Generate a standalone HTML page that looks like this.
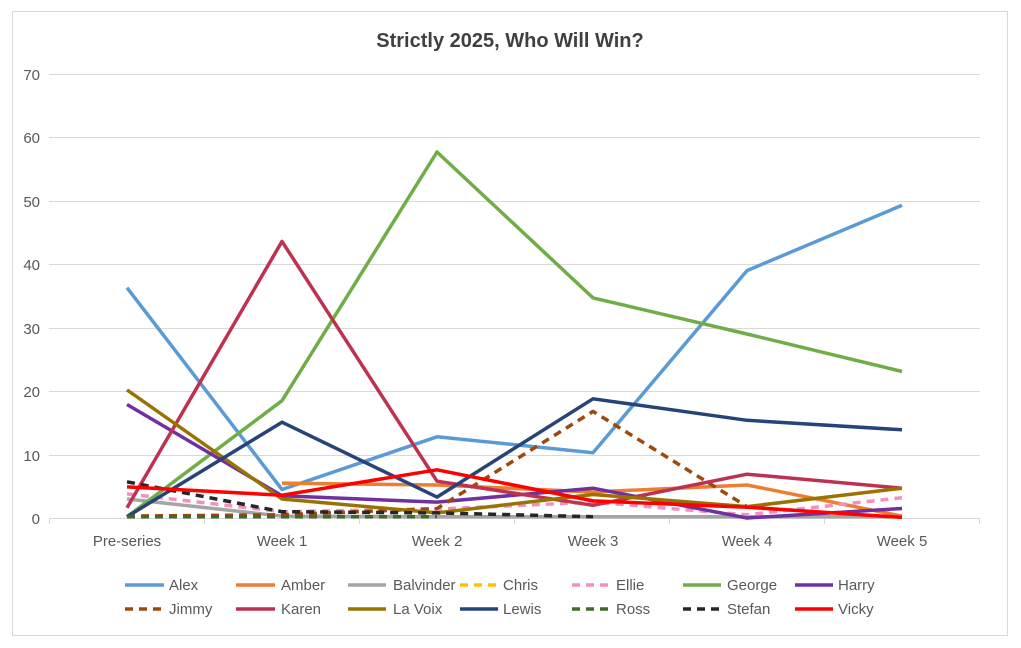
<!DOCTYPE html>
<html><head><meta charset="utf-8"><style>
html,body{margin:0;padding:0;background:#fff;}
svg{display:block;font-family:"Liberation Sans",sans-serif;}
</style></head><body>
<svg width="1021" height="648" viewBox="0 0 1021 648">
<rect x="0" y="0" width="1021" height="648" fill="#fff"/>
<rect x="12.5" y="11.5" width="995" height="624" fill="#fff" stroke="#d9d9d9"/>
<text x="510" y="47" text-anchor="middle" font-size="20" font-weight="bold" fill="#404040">Strictly 2025, Who Will Win?</text>
<g stroke="#d9d9d9" stroke-width="1">
<line x1="49" y1="74.5" x2="980" y2="74.5"/>
<line x1="49" y1="137.5" x2="980" y2="137.5"/>
<line x1="49" y1="201.5" x2="980" y2="201.5"/>
<line x1="49" y1="264.5" x2="980" y2="264.5"/>
<line x1="49" y1="328.5" x2="980" y2="328.5"/>
<line x1="49" y1="391.5" x2="980" y2="391.5"/>
<line x1="49" y1="455.5" x2="980" y2="455.5"/>
<line x1="49" y1="518.5" x2="980" y2="518.5"/>
<line x1="49.5" y1="518" x2="49.5" y2="524"/>
<line x1="204.5" y1="518" x2="204.5" y2="524"/>
<line x1="359.5" y1="518" x2="359.5" y2="524"/>
<line x1="514.5" y1="518" x2="514.5" y2="524"/>
<line x1="669.5" y1="518" x2="669.5" y2="524"/>
<line x1="824.5" y1="518" x2="824.5" y2="524"/>
<line x1="979.5" y1="518" x2="979.5" y2="524"/>
</g>
<g font-size="15" fill="#595959" text-anchor="end">
<text x="40" y="80">70</text><text x="40" y="143">60</text><text x="40" y="207">50</text><text x="40" y="270">40</text>
<text x="40" y="334">30</text><text x="40" y="397">20</text><text x="40" y="461">10</text><text x="40" y="524">0</text>
</g>
<g font-size="15" fill="#595959" text-anchor="middle">
<text x="127" y="546">Pre-series</text><text x="282" y="546">Week 1</text><text x="437" y="546">Week 2</text>
<text x="593" y="546">Week 3</text><text x="747" y="546">Week 4</text><text x="902" y="546">Week 5</text>
</g>
<g fill="none" stroke-width="3.5" stroke-linejoin="round">
<polyline stroke="#5B9BD5" points="127,287.7 282,489.5 437,436.8 593,452.7 747,270.6 902,205.3"/>
<polyline stroke="#ED7D31" points="282,483.1 437,485 593,492 747,485 902,516.1"/>
<polyline stroke="#A5A5A5" points="127,499 282,516.1 437,516.7 593,516.7 747,516.7 902,516.7"/>
<polyline stroke="#FFC000" stroke-dasharray="8,6" points="127,516.1 282,516.7 437,516.7"/>
<polyline stroke="#F191C3" stroke-dasharray="8,6" points="127,493.9 282,511.7 437,509.1 593,502.1 747,514.8 902,497.7"/>
<polyline stroke="#70AD47" points="127,516.7 282,400.7 437,152 593,297.9 747,334 902,371.5"/>
<polyline stroke="#7030A0" points="127,404.5 282,495.8 437,502.1 593,488.2 747,518 902,508.5"/>
<polyline stroke="#9E480E" stroke-dasharray="8,6" points="127,516.1 282,514.8 437,508.5 593,411.4 747,506.6"/>
<polyline stroke="#BE3150" points="127,507.8 282,241.4 437,481.2 593,505.3 747,474.2 902,488.2"/>
<polyline stroke="#997300" points="127,389.9 282,499 437,512.9 593,494.5 747,506.6 902,488.2"/>
<polyline stroke="#264478" points="127,516.7 282,422.2 437,497.1 593,398.8 747,420.3 902,429.8"/>
<polyline stroke="#43682B" stroke-dasharray="8,6" points="127,516.7 282,516.7 437,516.7"/>
<polyline stroke="#262626" stroke-dasharray="8,6" points="127,481.8 282,511.7 437,512.9 593,516.7"/>
<polyline stroke="#FF0000" points="127,486.9 282,495.2 437,469.8 593,500.9 747,507.2 902,517.4"/>
</g>
<g stroke-width="3.5" fill="none">
<line x1="125" y1="585" x2="164" y2="585" stroke="#5B9BD5"/>
<line x1="236" y1="585" x2="275" y2="585" stroke="#ED7D31"/>
<line x1="348" y1="585" x2="386" y2="585" stroke="#A5A5A5"/>
<line x1="460" y1="585" x2="498" y2="585" stroke="#FFC000" stroke-dasharray="8,6"/>
<line x1="572" y1="585" x2="610" y2="585" stroke="#F191C3" stroke-dasharray="8,6"/>
<line x1="683" y1="585" x2="721" y2="585" stroke="#70AD47"/>
<line x1="795" y1="585" x2="833" y2="585" stroke="#7030A0"/>
<line x1="125" y1="609" x2="164" y2="609" stroke="#9E480E" stroke-dasharray="8,6"/>
<line x1="236" y1="609" x2="275" y2="609" stroke="#BE3150"/>
<line x1="348" y1="609" x2="386" y2="609" stroke="#997300"/>
<line x1="460" y1="609" x2="498" y2="609" stroke="#264478"/>
<line x1="572" y1="609" x2="610" y2="609" stroke="#43682B" stroke-dasharray="8,6"/>
<line x1="683" y1="609" x2="721" y2="609" stroke="#262626" stroke-dasharray="8,6"/>
<line x1="795" y1="609" x2="833" y2="609" stroke="#FF0000"/>
</g>
<g font-size="15" fill="#595959">
<text x="169" y="590">Alex</text><text x="281" y="590">Amber</text><text x="393" y="590">Balvinder</text>
<text x="503" y="590">Chris</text><text x="616" y="590">Ellie</text><text x="727" y="590">George</text><text x="838" y="590">Harry</text>
<text x="169" y="614">Jimmy</text><text x="281" y="614">Karen</text><text x="393" y="614">La Voix</text>
<text x="503" y="614">Lewis</text><text x="616" y="614">Ross</text><text x="727" y="614">Stefan</text><text x="838" y="614">Vicky</text>
</g>
</svg>
</body></html>
